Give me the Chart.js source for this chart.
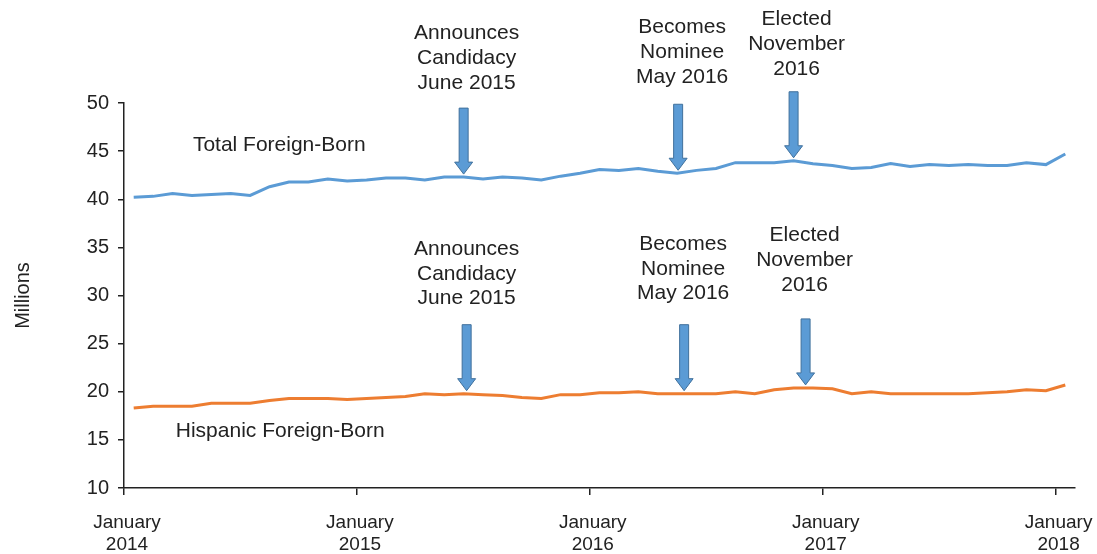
<!DOCTYPE html>
<html>
<head>
<meta charset="utf-8">
<script src="https://cdn.jsdelivr.net/npm/chart.js@4/dist/chart.umd.min.js"></script>
<style>
html,body{margin:0;padding:0;background:#fff;}
#wrap{width:1097px;height:554px;position:relative;}
</style>
</head>
<body>
<div id="wrap"><canvas id="c" width="1097" height="554"></canvas></div>
<script>
const months = [
  "Jan 2014","Feb 2014","Mar 2014","Apr 2014","May 2014","Jun 2014","Jul 2014","Aug 2014","Sep 2014","Oct 2014","Nov 2014","Dec 2014",
  "Jan 2015","Feb 2015","Mar 2015","Apr 2015","May 2015","Jun 2015","Jul 2015","Aug 2015","Sep 2015","Oct 2015","Nov 2015","Dec 2015",
  "Jan 2016","Feb 2016","Mar 2016","Apr 2016","May 2016","Jun 2016","Jul 2016","Aug 2016","Sep 2016","Oct 2016","Nov 2016","Dec 2016",
  "Jan 2017","Feb 2017","Mar 2017","Apr 2017","May 2017","Jun 2017","Jul 2017","Aug 2017","Sep 2017","Oct 2017","Nov 2017","Dec 2017",
  "Jan 2018"
];
const totalForeignBorn = [
  40.2, 40.3, 40.6, 40.4, 40.5, 40.6, 40.4, 41.3, 41.8, 41.8, 42.1, 41.9,
  42.0, 42.2, 42.2, 42.0, 42.3, 42.3, 42.1, 42.3, 42.2, 42.0, 42.4, 42.7,
  43.1, 43.0, 43.2, 42.9, 42.7, 43.0, 43.2, 43.8, 43.8, 43.8, 44.0, 43.7,
  43.5, 43.2, 43.3, 43.7, 43.4, 43.6, 43.5, 43.6, 43.5, 43.5, 43.8, 43.6,
  44.7
];
const hispanicForeignBorn = [
  18.3, 18.5, 18.5, 18.5, 18.8, 18.8, 18.8, 19.1, 19.3, 19.3, 19.3, 19.2,
  19.3, 19.4, 19.5, 19.8, 19.7, 19.8, 19.7, 19.6, 19.4, 19.3, 19.7, 19.7,
  19.9, 19.9, 20.0, 19.8, 19.8, 19.8, 19.8, 20.0, 19.8, 20.2, 20.4, 20.4,
  20.3, 19.8, 20.0, 19.8, 19.8, 19.8, 19.8, 19.8, 19.9, 20.0, 20.2, 20.1,
  20.7
];
const tickMonths = ["Jan 2014","Jan 2015","Jan 2016","Jan 2017","Jan 2018"];
const tickLabels = [["January","2014"],["January","2015"],["January","2016"],["January","2017"],["January","2018"]];
const seriesNames = ["Total Foreign-Born","Hispanic Foreign-Born"];
const eventMonths = ["Jun 2015","May 2016","Nov 2016"];
const eventLabels = [
  ["Announces","Candidacy","June 2015"],
  ["Becomes","Nominee","May 2016"],
  ["Elected","November","2016"]
];

const FONT = '"Liberation Sans", Arial, Helvetica, sans-serif';
const BLUE = '#5b9bd5', ORANGE = '#ed7d31', AXIS = '#222';
// layout tweaks for annotation placement: [upper, lower] per event
const eventDx = [[0, 3], [1, 7], [0, 12]];
const eventTextDx = [[3, 0], [4, -1], [3, -1]];
const eventGap = [[25, 26], [27, 31], [23, 34]];

function pts(vals){ return vals.map((v,i)=>({x:i,y:v})); }

const annot = {
  id:'annot',
  afterDatasetsDraw(chart){
    const ctx = chart.ctx, xs = chart.scales.x, ys = chart.scales.y;
    ctx.save();
    ctx.fillStyle = '#222';
    ctx.font = '21px ' + FONT;
    ctx.textAlign = 'center';
    ctx.textBaseline = 'middle';
    ctx.fillText(seriesNames[0], xs.getPixelForValue(7.5), ys.getPixelForValue(45.65));
    ctx.fillText(seriesNames[1], xs.getPixelForValue(7.55), ys.getPixelForValue(15.9));
    const series = [totalForeignBorn, hispanicForeignBorn];
    eventMonths.forEach((m, k) => {
      const idx = months.indexOf(m);
      series.forEach((arr, s) => {
        const x = xs.getPixelForValue(idx) + eventDx[k][s];
        const tip = ys.getPixelForValue(arr[idx]) - 3;
        const top = tip - 66;
        const shaftW = 9, headW = 18, headH = 12;
        ctx.beginPath();
        ctx.moveTo(x - shaftW/2, top);
        ctx.lineTo(x + shaftW/2, top);
        ctx.lineTo(x + shaftW/2, tip - headH);
        ctx.lineTo(x + headW/2, tip - headH);
        ctx.lineTo(x, tip);
        ctx.lineTo(x - headW/2, tip - headH);
        ctx.lineTo(x - shaftW/2, tip - headH);
        ctx.closePath();
        ctx.fillStyle = BLUE;
        ctx.fill();
        ctx.strokeStyle = '#41719c';
        ctx.lineWidth = 1;
        ctx.stroke();
        ctx.fillStyle = '#222';
        ctx.font = '21px ' + FONT;
        const lines = eventLabels[k];
        const lh = 24.8;
        lines.forEach((t, j) => {
          ctx.fillText(t, x + eventTextDx[k][s], top - eventGap[k][s] - (lines.length - 1 - j) * lh);
        });
      });
    });
    ctx.restore();
  }
};

new Chart(document.getElementById('c'), {
  type: 'line',
  data: {
    datasets: [
      { label: seriesNames[0], data: pts(totalForeignBorn), borderColor: BLUE, borderWidth: 3, pointRadius: 0, tension: 0, fill: false },
      { label: seriesNames[1], data: pts(hispanicForeignBorn), borderColor: ORANGE, borderWidth: 3, pointRadius: 0, tension: 0, fill: false }
    ]
  },
  options: {
    responsive: false,
    animation: false,
    devicePixelRatio: 1,
    layout: { padding: { top: 103, right: 22, left: 0, bottom: 0 } },
    plugins: { legend: { display: false }, tooltip: { enabled: false } },
    scales: {
      x: {
        type: 'linear',
        min: -0.5,
        max: months.length - 0.5,
        afterBuildTicks(s){ s.ticks = tickMonths.map(m => ({ value: months.indexOf(m) - 0.5 })); },
        afterFit(s){ s.height = 66; s.paddingLeft = 0; s.paddingRight = 0; },
        grid: { display: true, drawOnChartArea: false, drawTicks: true, tickLength: 7, color: AXIS, lineWidth: 1.5 },
        border: { display: true, color: AXIS, width: 1.5 },
        ticks: {
          autoSkip: false, maxRotation: 0, padding: 16, labelOffset: 3,
          color: '#222', font: { family: FONT, size: 19 },
          callback: (v, i) => tickLabels[i]
        }
      },
      y: {
        min: 10, max: 50,
        afterFit(s){ s.width = 124; s.paddingTop = 0; s.paddingBottom = 0; },
        grid: { display: true, drawOnChartArea: false, drawTicks: true, tickLength: 6, color: AXIS, lineWidth: 1.5 },
        border: { display: true, color: AXIS, width: 1.5 },
        ticks: { stepSize: 5, padding: 9, color: '#222', font: { family: FONT, size: 20 } },
        title: { display: true, text: 'Millions', color: '#222', font: { family: FONT, size: 20 }, padding: { top: 11, bottom: 0 } }
      }
    }
  },
  plugins: [annot]
});
</script>
</body>
</html>
